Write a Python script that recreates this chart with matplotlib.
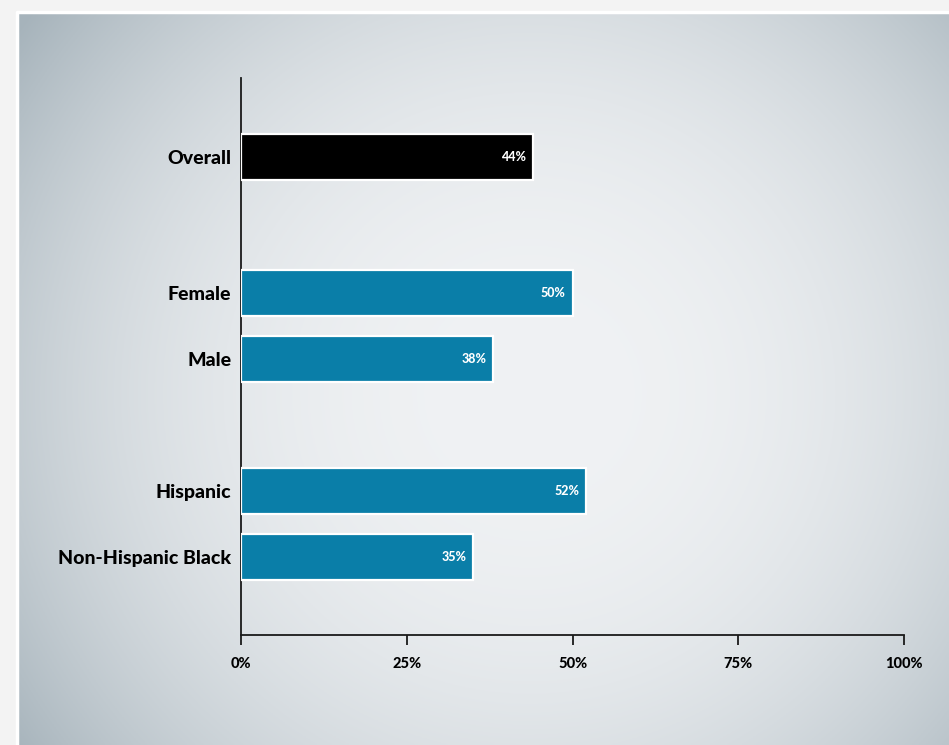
import numpy as np
import matplotlib
matplotlib.use("Agg")
import matplotlib.pyplot as plt
from matplotlib.colors import to_rgb

categories = ["Overall", "Female", "Male", "Hispanic", "Non-Hispanic Black"]
values = [44, 50, 38, 52, 35]
bar_colors = ["#000000", "#0a7ea8", "#0a7ea8", "#0a7ea8", "#0a7ea8"]
tick_values = [0, 25, 50, 75, 100]
tick_labels = ["0%", "25%", "50%", "75%", "100%"]

# vertical slots: groups separated by an empty row
positions = [0, 2.06, 3.06, 5.06, 6.06]

W, H = 949, 745
fig = plt.figure(figsize=(W / 100, H / 100), dpi=100)
fig.patch.set_facecolor("#f3f3f3")

# vignette panel behind the chart
left_px, top_px = 17, 12
bg = fig.add_axes([left_px / W, 0, 1 - left_px / W, 1 - top_px / H])
bg.set_axis_off()
nx, ny = 400, 320
xx, yy = np.meshgrid(np.linspace(0, 1, nx), np.linspace(0, 1, ny))
cx, cy = 0.55, 0.52
r = np.sqrt(((xx - cx) / 0.68) ** 2 + ((yy - cy) / 0.85) ** 2)
t = np.clip(r, 0, 1) ** 2.4
c_center = np.array(to_rgb("#f0f2f4"))
c_edge = np.array(to_rgb("#a6b3bb"))
img = c_center[None, None, :] * (1 - t[..., None]) + c_edge[None, None, :] * t[..., None]
bg.imshow(img, extent=[0, 1, 0, 1], aspect="auto", origin="upper")
bg.set_xlim(0, 1)
bg.set_ylim(0, 1)
bg.plot([0, 0, 1], [0, 1, 1], color="white", lw=2.5, transform=bg.transAxes, clip_on=False)

# main chart
x0, x1 = 241, 904
y_top, y_bot = 78, 635
ax = fig.add_axes([x0 / W, 1 - y_bot / H, (x1 - x0) / W, (y_bot - y_top) / H])
ax.patch.set_alpha(0)

ax.barh(positions, values, height=0.69, color=bar_colors,
        edgecolor="white", linewidth=1.6, zorder=3)

for p, v in zip(positions, values):
    ax.text(v - 1.0, p, f"{v}%", ha="right", va="center", color="white",
            fontsize=9, fontweight="black", family="Lato", zorder=4)

ax.set_xlim(0, 100)
ax.set_ylim(7.24, -1.2)
ax.set_xticks(tick_values)
ax.set_xticklabels(tick_labels, fontsize=10.5, fontweight="black", family="Lato")
ax.set_yticks(positions)
ax.set_yticklabels(categories, fontsize=14, fontweight="black", family="Lato")
ax.tick_params(axis="y", length=0, pad=7)
ax.tick_params(axis="x", length=7.5, width=1.3, color="#1a1a1a", pad=8)

for side in ["top", "right"]:
    ax.spines[side].set_visible(False)
for side in ["left", "bottom"]:
    ax.spines[side].set_linewidth(1.3)
    ax.spines[side].set_color("#1a1a1a")

fig.savefig("out.png", dpi=100, facecolor=fig.get_facecolor())
